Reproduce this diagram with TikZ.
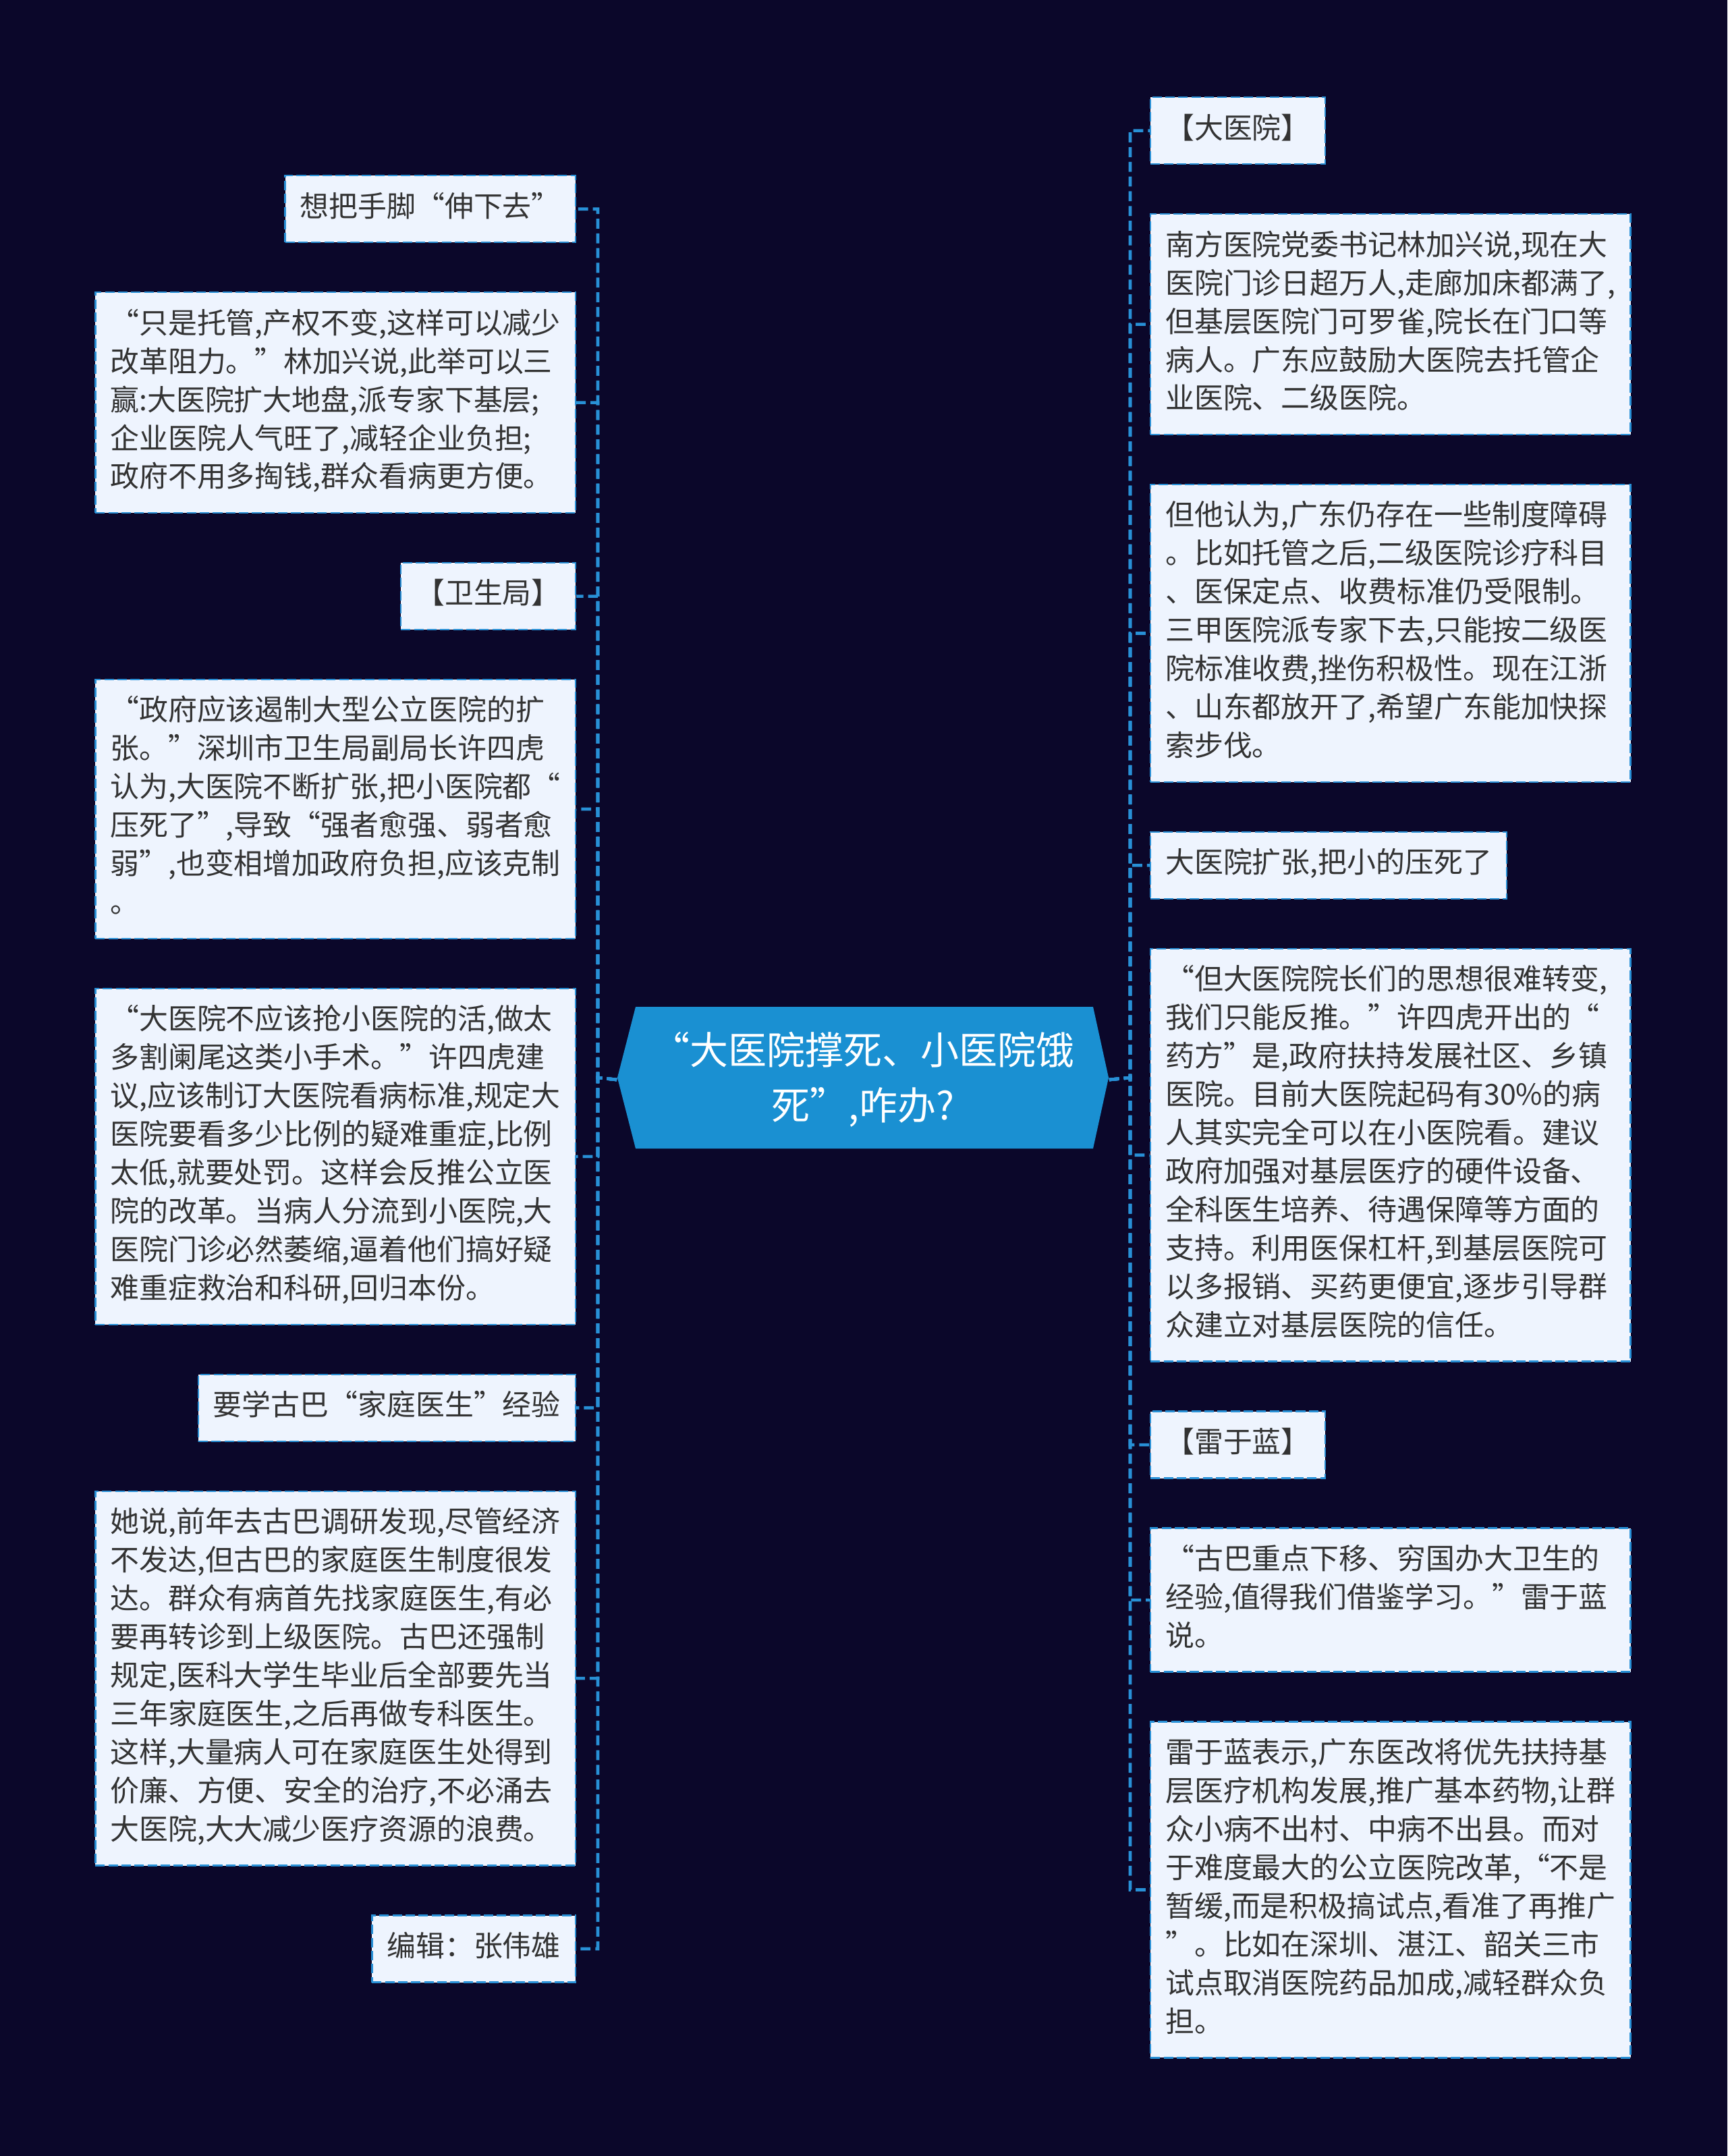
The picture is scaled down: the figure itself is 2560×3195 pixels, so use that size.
\documentclass[tikz,border=0pt]{standalone}
\usepackage{fontspec}
\setmainfont{Noto Sans CJK SC}
\usepackage{xcolor}
\usepackage{tikz}
\usetikzlibrary{positioning}
\definecolor{bgnavy}{RGB}{11,7,42}
\definecolor{cardfill}{RGB}{238,244,254}
\definecolor{linkblue}{RGB}{40,144,214}
\definecolor{hubblue}{RGB}{26,144,210}
\definecolor{inkgray}{RGB}{51,51,51}
\newcommand\cardfont{\fontsize{12.2pt}{16.2pt}\selectfont}
\newcommand\hubfont{\fontsize{16.2pt}{23.3pt}\selectfont}

\begin{document}
\begin{tikzpicture}[x=0.01cm, y=-0.01cm, node distance=7.15mm,
  card/.style={draw=linkblue, line width=0.7pt, dash pattern=on 4pt off 1.5pt, fill=cardfill, text=inkgray, font=\cardfont,
    inner xsep=2.2mm, inner ysep=2.1mm, align=left, execute at begin node=\strut, execute at end node=\strut},
  wide/.style={card, text width=66.7mm},
  hub/.style={text=white, font=\hubfont, align=center, minimum width=72.8mm, minimum height=21mm, inner sep=0pt},
  link/.style={draw=linkblue, line width=1.3pt, dash pattern=on 4.2pt off 2pt}]
  \useasboundingbox[fill=bgnavy] (0,0) rectangle (2560,3195);

  % centre topic
  \fill[hubblue] (915,1597) -- (942,1492) -- (1620,1492) -- (1643,1597) -- (1620,1702) -- (942,1702) -- cycle;
  \node[hub] (hub) at (1279,1600) {“大医院撑死、小医院饿\\死”,咋办?};
  \coordinate (lsp) at (886,1597);
  \coordinate (rsp) at (1675,1597);

  % left column
  \node[card, anchor=north east] (l1) at (854,259) {想把手脚“伸下去”};
  \node[wide, below=of l1.south east, anchor=north east] (l2) {“只是托管,产权不变,这样可以减少\\改革阻力。”林加兴说,此举可以三\\赢:大医院扩大地盘,派专家下基层;\\企业医院人气旺了,减轻企业负担;\\政府不用多掏钱,群众看病更方便。};
  \node[card, below=of l2.south east, anchor=north east] (l3) {【卫生局】};
  \node[wide, below=of l3.south east, anchor=north east] (l4) {“政府应该遏制大型公立医院的扩\\张。”深圳市卫生局副局长许四虎\\认为,大医院不断扩张,把小医院都“\\压死了”,导致“强者愈强、弱者愈\\弱”,也变相增加政府负担,应该克制\\。};
  \node[wide, below=of l4.south east, anchor=north east] (l5) {“大医院不应该抢小医院的活,做太\\多割阑尾这类小手术。”许四虎建\\议,应该制订大医院看病标准,规定大\\医院要看多少比例的疑难重症,比例\\太低,就要处罚。这样会反推公立医\\院的改革。当病人分流到小医院,大\\医院门诊必然萎缩,逼着他们搞好疑\\难重症救治和科研,回归本份。};
  \node[card, below=of l5.south east, anchor=north east] (l6) {要学古巴“家庭医生”经验};
  \node[wide, below=of l6.south east, anchor=north east] (l7) {她说,前年去古巴调研发现,尽管经济\\不发达,但古巴的家庭医生制度很发\\达。群众有病首先找家庭医生,有必\\要再转诊到上级医院。古巴还强制\\规定,医科大学生毕业后全部要先当\\三年家庭医生,之后再做专科医生。\\这样,大量病人可在家庭医生处得到\\价廉、方便、安全的治疗,不必涌去\\大医院,大大减少医疗资源的浪费。};
  \node[card, below=of l7.south east, anchor=north east] (l8) {编辑：张伟雄};

  % right column
  \node[card, anchor=north west] (r1) at (1704,143) {【大医院】};
  \node[wide, below=of r1.south west, anchor=north west] (r2) {南方医院党委书记林加兴说,现在大\\医院门诊日超万人,走廊加床都满了,\\但基层医院门可罗雀,院长在门口等\\病人。广东应鼓励大医院去托管企\\业医院、二级医院。};
  \node[wide, below=of r2.south west, anchor=north west] (r3) {但他认为,广东仍存在一些制度障碍\\。比如托管之后,二级医院诊疗科目\\、医保定点、收费标准仍受限制。\\三甲医院派专家下去,只能按二级医\\院标准收费,挫伤积极性。现在江浙\\、山东都放开了,希望广东能加快探\\索步伐。};
  \node[card, below=of r3.south west, anchor=north west] (r4) {大医院扩张,把小的压死了};
  \node[wide, below=of r4.south west, anchor=north west] (r5) {“但大医院院长们的思想很难转变,\\我们只能反推。”许四虎开出的“\\药方”是,政府扶持发展社区、乡镇\\医院。目前大医院起码有30\%的病\\人其实完全可以在小医院看。建议\\政府加强对基层医疗的硬件设备、\\全科医生培养、待遇保障等方面的\\支持。利用医保杠杆,到基层医院可\\以多报销、买药更便宜,逐步引导群\\众建立对基层医院的信任。};
  \node[card, below=of r5.south west, anchor=north west] (r6) {【雷于蓝】};
  \node[wide, below=of r6.south west, anchor=north west] (r7) {“古巴重点下移、穷国办大卫生的\\经验,值得我们借鉴学习。”雷于蓝\\说。};
  \node[wide, below=of r7.south west, anchor=north west] (r8) {雷于蓝表示,广东医改将优先扶持基\\层医疗机构发展,推广基本药物,让群\\众小病不出村、中病不出县。而对\\于难度最大的公立医院改革,“不是\\暂缓,而是积极搞试点,看准了再推广\\”。比如在深圳、湛江、韶关三市\\试点取消医院药品加成,减轻群众负\\担。};

  % connectors
  \foreach \i in {1,...,8} {
    \draw[link] (hub.west) -- (lsp) |- (l\i.east);
    \draw[link] (hub.east) -- (rsp) |- (r\i.west);
  }
\end{tikzpicture}
\end{document}
